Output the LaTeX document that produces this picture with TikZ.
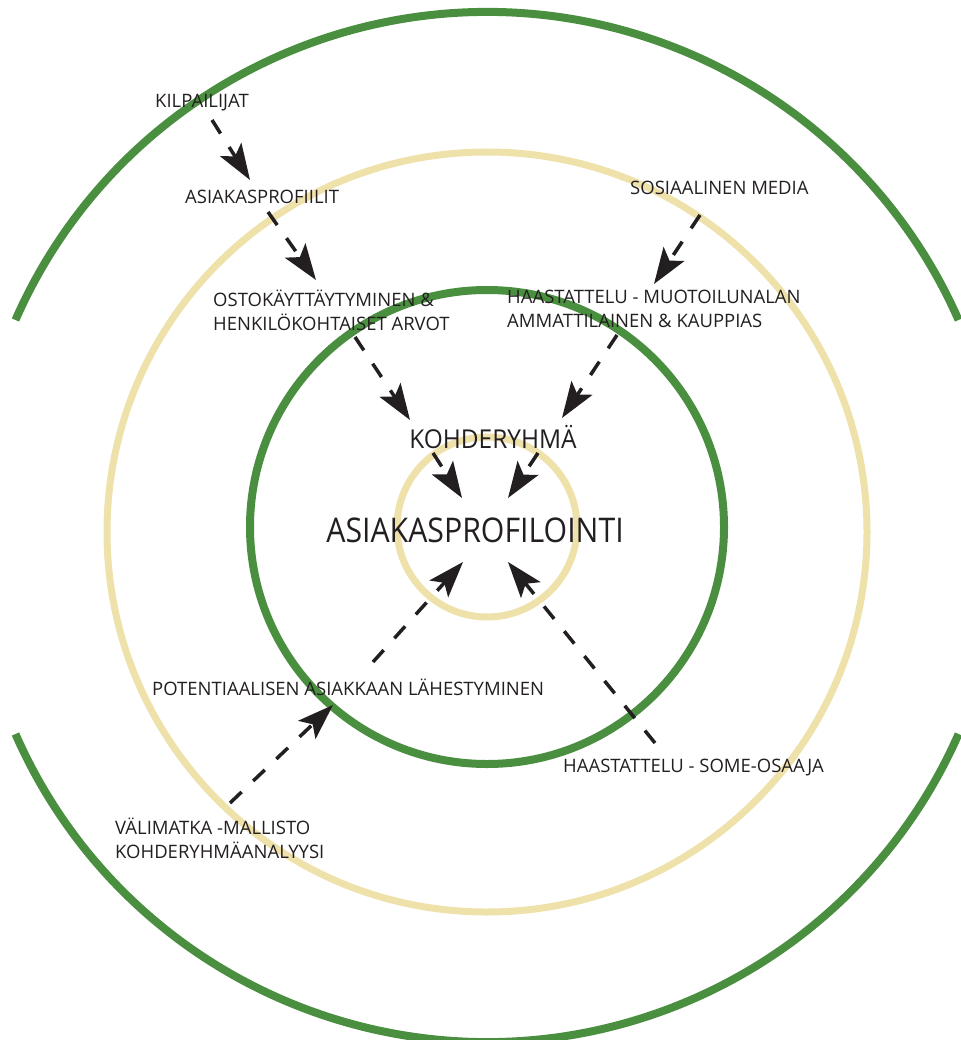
\documentclass[tikz,border=0pt]{standalone}
\usepackage{fontspec}
\setmainfont{Open Sans}
\usetikzlibrary{arrows.meta}
\definecolor{ringgreen}{RGB}{74,143,63}
\definecolor{ringbeige}{RGB}{238,225,170}
\definecolor{ink}{RGB}{35,31,32}
\tikzset{
  greenring/.style={draw=ringgreen,line width=8pt},
  beigering/.style={draw=ringbeige,line width=7pt},
  lbl/.style={inner sep=0pt,text=ink,font=\fontsize{18.5}{24}\selectfont,align=left,anchor=west},
  flow/.style={draw=ink,line width=3.5pt,dash pattern=on 16pt off 16pt,
    -{Stealth[length=36pt,width=25pt,inset=8pt]}}
}
\begin{document}
\begin{tikzpicture}[x=1pt,y=1pt]
\useasboundingbox (0,0) rectangle (960,-1040);
\coordinate (c) at (487,-527);
% rings
\draw[greenring] ([shift={(156.3:515)}]c) arc[start angle=156.3,end angle=23.7,radius=515];
\draw[greenring] ([shift={(203.7:515)}]c) arc[start angle=203.7,end angle=336.3,radius=515];
\draw[beigering] (487,-532) circle[radius=380];
\draw[greenring] (c) circle[radius=237];
\draw[beigering] (c) circle[radius=90];
% arrows
\coordinate (s1) at (212,-120); \coordinate (t1) at (250,-180);
\coordinate (s2) at (268,-212); \coordinate (t2) at (316,-280);
\coordinate (s3) at (355,-337); \coordinate (t3) at (410,-420);
\coordinate (s4) at (433,-453); \coordinate (t4) at (462,-498);
\coordinate (s5) at (538,-453); \coordinate (t5) at (508,-498);
\coordinate (s6) at (700,-215); \coordinate (t6) at (654,-284);
\coordinate (s7) at (617,-335); \coordinate (t7) at (562,-418);
\coordinate (s8) at (230,-803); \coordinate (t8) at (333,-705);
\coordinate (s9) at (373,-662); \coordinate (t9) at (463,-562);
\coordinate (s10) at (655,-743); \coordinate (t10) at (508,-562);
\foreach \i in {1,...,10} {\draw[flow] (s\i) -- (t\i);}
% labels
\node[lbl] (kil) at (155,-103) {KILPAILIJAT};
\node[lbl] (apf) at (185,-197) {ASIAKASPROFIILIT};
\node[lbl] (osto) at (213,-310) {OSTOKÄYTTÄYTYMINEN \&\\HENKILÖKOHTAISET ARVOT};
\node[lbl] (some) at (630,-188) {SOSIAALINEN MEDIA};
\node[lbl] (haas) at (507,-309) {HAASTATTELU - MUOTOILUNALAN\\AMMATTILAINEN \& KAUPPIAS};
\node[lbl,anchor=center,xscale=0.94,font=\fontsize{26}{30}\selectfont] (koh) at (493,-437) {KOHDERYHMÄ};
\node[lbl,anchor=center,xscale=0.89,font=\fontsize{34}{40}\selectfont] (main) at (475,-530) {ASIAKASPROFILOINTI};
\node[lbl] (pot) at (152,-687) {POTENTIAALISEN ASIAKKAAN LÄHESTYMINEN};
\node[lbl] (hsome) at (563,-768) {HAASTATTELU - SOME-OSAAJA};
\node[lbl] (val) at (115,-838) {VÄLIMATKA -MALLISTO\\KOHDERYHMÄANALYYSI};
\end{tikzpicture}
\end{document}
